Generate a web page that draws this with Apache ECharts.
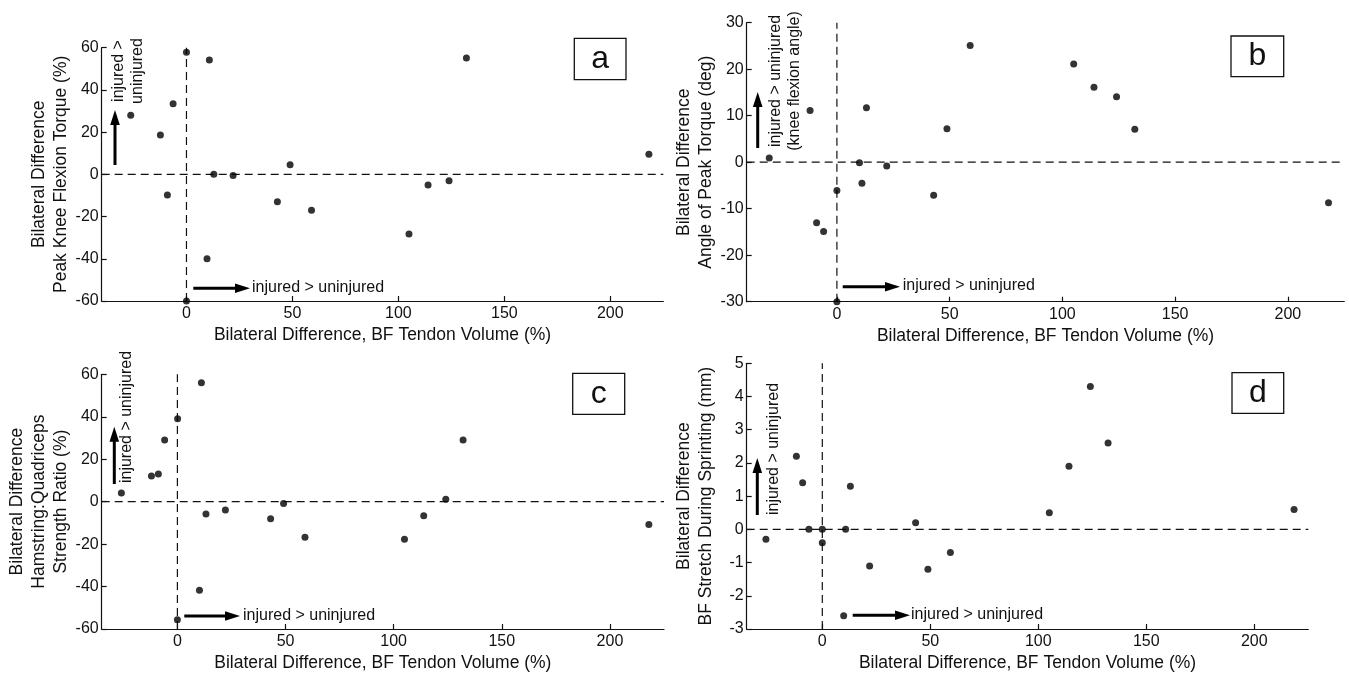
<!DOCTYPE html>
<html><head><meta charset="utf-8">
<script src="https://cdn.jsdelivr.net/npm/echarts@6/dist/echarts.min.js"></script>
<style>html,body{margin:0;padding:0;background:#fff}#c{width:1349px;height:675px}</style>
</head><body><div id="c"></div>
<script>
const FONT = "'Liberation Sans', Arial, Helvetica, sans-serif";
// shared tick labels
const xTicks = [0, 50, 100, 150, 200];
const yTicksA = [-60, -40, -20, 0, 20, 40, 60];
const yTicksB = [-30, -20, -10, 0, 10, 20, 30];
const yTicksC = [-60, -40, -20, 0, 20, 40, 60];
const yTicksD = [-3, -2, -1, 0, 1, 2, 3, 4, 5];
// axis titles
const xTitle = 'Bilateral Difference, BF Tendon Volume (%)';
const yTitleA = 'Bilateral Difference\nPeak Knee Flexion Torque (%)';
const yTitleB = 'Bilateral Difference\nAngle of Peak Torque (deg)';
const yTitleC = 'Bilateral Difference\nHamstring:Quadriceps\nStrength Ratio (%)';
const yTitleD = 'Bilateral Difference\nBF Stretch During Sprinting (mm)';
// panel a: peak knee flexion torque
const aX = [-26.3, -12.3, -9, -6.3, 0, 0, 9.7, 10.8, 12.9, 22, 42.9, 48.9, 59, 105, 114, 123.9, 132.1, 218.2];
const aY = [28, 18.6, -9.8, 33.5, 57.8, -60, -40, 54.2, 0, -0.6, -13, 4.6, -17, -28.3, -5, -3, 55.1, 9.5];
// panel b: angle of peak torque
const bX = [-30, -11.9, -9, -5.9, 0, 0, 10, 11.1, 13.1, 22.1, 42.9, 48.8, 59.1, 105, 114, 124, 132.1, 218];
const bY = [0.9, 11.1, -13, -14.9, -6.1, -30, -0.1, -4.5, 11.7, -0.8, -7.1, 7.2, 25.1, 21.1, 16.1, 14.1, 7.1, -8.7];
// panel c: H:Q strength ratio
const cX = [-25.9, -12, -8.8, -5.9, 0.1, 0, 11.1, 10.2, 13.2, 22.2, 43.1, 49.1, 59, 105, 113.9, 124.1, 132.1, 218];
const cY = [4.1, 12.1, 13, 29, 39, -55.7, 56, -41.7, -5.8, -3.9, -8, -0.9, -16.8, -17.7, -6.7, 1.1, 29, -10.8];
// panel d: BF stretch during sprinting
const dX = [-26.1, -12, -9.1, -6.2, 0, 0, 9.9, 10.8, 13, 21.9, 43.2, 48.9, 59.3, 105.1, 114.2, 124.1, 132.3, 218.4];
const dY = [-0.3, 2.2, 1.4, 0, 0, -0.4, -2.6, 0, 1.3, -1.1, 0.2, -1.2, -0.7, 0.5, 1.9, 4.3, 2.6, 0.6];

const panels = [
  {x: aX, y: aY, xMin: -40, xMax: 225, yTicks: yTicksA, yTitle: yTitleA, gap: 23,
   grid: {left: 101.7, top: 47.7, width: 561.6, height: 253.3}},
  {x: bX, y: bY, xMin: -40, xMax: 225, yTicks: yTicksB, yTitle: yTitleB, gap: 30,
   grid: {left: 746.7, top: 22.7, width: 597.6, height: 279}},
  {x: cX, y: cY, xMin: -35, xMax: 225, yTicks: yTicksC, yTitle: yTitleC, gap: 28,
   grid: {left: 101.7, top: 374.3, width: 562.3, height: 254.7}},
  {x: dX, y: dY, xMin: -35, xMax: 225, yTicks: yTicksD, yTitle: yTitleD, gap: 30,
   grid: {left: 746.7, top: 363.3, width: 561.6, height: 265.7}}
];

const INK = '#111';
const axisCommon = {
  axisLine: {show: true, onZero: false, lineStyle: {color: INK, width: 1.2}},
  axisTick: {show: true, inside: true, length: 5, lineStyle: {color: INK, width: 1.2}},
  splitLine: {show: false},
  nameTextStyle: {fontFamily: FONT, fontSize: 17.5, color: INK, lineHeight: 22}
};

const series = [];
panels.forEach((p, i) => {
  const yMin = p.yTicks[0], yMax = p.yTicks[p.yTicks.length - 1];
  const dash = {type: [8, 5], color: INK, width: 1.2};
  series.push({type: 'line', xAxisIndex: i, yAxisIndex: i, silent: true, symbol: 'none',
    lineStyle: dash, data: [[p.xMin, 0], [p.xMax, 0]], z: 1});
  series.push({type: 'line', xAxisIndex: i, yAxisIndex: i, silent: true, symbol: 'none',
    lineStyle: dash, data: [[0, yMin], [0, yMax]], z: 1});
  series.push({type: 'scatter', xAxisIndex: i, yAxisIndex: i, clip: false,
    symbol: 'circle', symbolSize: 7, itemStyle: {color: '#000'}, z: 3,
    data: p.x.map((v, k) => [v, p.y[k]])});
});

const option = {
  animation: false,
  backgroundColor: '#fff',
  grid: panels.map(p => p.grid),
  xAxis: panels.map((p, i) => Object.assign({}, axisCommon, {
    type: 'value', gridIndex: i, min: p.xMin, max: p.xMax,
    name: xTitle, nameLocation: 'middle', nameGap: 23,
    axisTick: Object.assign({}, axisCommon.axisTick, {customValues: xTicks}),
    axisLabel: {customValues: xTicks, fontFamily: FONT, fontSize: 16, color: INK, margin: 5}
  })),
  yAxis: panels.map((p, i) => Object.assign({}, axisCommon, {
    type: 'value', gridIndex: i, min: p.yTicks[0], max: p.yTicks[p.yTicks.length - 1],
    name: p.yTitle, nameLocation: 'middle', nameGap: p.gap,
    axisTick: Object.assign({}, axisCommon.axisTick, {customValues: p.yTicks}),
    axisLabel: {customValues: p.yTicks, fontFamily: FONT, fontSize: 16, color: INK, margin: 3}
  })),
  series: series,
  graphic: []
};

function arrow(x1, y1, x2, y2) {
  const dx = x2 - x1, dy = y2 - y1, L = Math.hypot(dx, dy), ux = dx / L, uy = dy / L;
  const hl = 15, hw = 4.8;
  const bx = x2 - ux * hl, by = y2 - uy * hl;
  return [
    {type: 'line', shape: {x1: x1, y1: y1, x2: bx + ux, y2: by + uy}, style: {stroke: '#000', lineWidth: 3}},
    {type: 'polygon', shape: {points: [[x2, y2], [bx - uy * hw, by + ux * hw], [bx + uy * hw, by - ux * hw]]}, style: {fill: '#000'}}
  ];
}
function hText(x, y, t) {
  return {type: 'text', x: x, y: y, style: {text: t, font: '16px ' + FONT, fill: INK, align: 'left', verticalAlign: 'middle'}};
}
function vText(x, y, t) {
  return {type: 'text', x: x, y: y, rotation: Math.PI / 2,
    style: {text: t, font: '16px ' + FONT, fill: INK, align: 'center', verticalAlign: 'middle', lineHeight: 19}};
}
function box(x, y, w, h, t) {
  return [
    {type: 'rect', shape: {x: x, y: y, width: w, height: h}, style: {fill: '#fff', stroke: INK, lineWidth: 1.3}},
    {type: 'text', x: x + w / 2, y: y + h / 2, style: {text: t, font: '32px ' + FONT, fill: INK, align: 'center', verticalAlign: 'middle'}}
  ];
}
const g = option.graphic;
// panel a
g.push(...arrow(193.3, 288.3, 250, 288.3), hText(252, 287.5, 'injured > uninjured'));
g.push(...arrow(115, 165, 115, 110), vText(128, 71, 'injured >\nuninjured'));
g.push(...box(574.3, 38.3, 51.7, 41.4, 'a'));
// panel b
g.push(...arrow(842.7, 286.7, 900, 286.7), hText(902.7, 286, 'injured > uninjured'));
g.push(...arrow(757.7, 148, 757.7, 92), vText(785, 81, 'injured > uninjured\n(knee flexion angle)'));
g.push(...box(1231, 36, 52.7, 40.7, 'b'));
// panel c
g.push(...arrow(184.3, 616, 240, 616), hText(243, 615.5, 'injured > uninjured'));
g.push(...arrow(114.3, 484, 114.3, 426.7), vText(127, 417, 'injured > uninjured'));
g.push(...box(572.7, 373.3, 52, 41, 'c'));
// panel d
g.push(...arrow(852.7, 615.3, 910, 615.3), hText(911, 615, 'injured > uninjured'));
g.push(...arrow(757.3, 515, 757.3, 458), vText(774, 449, 'injured > uninjured'));
g.push(...box(1232, 372.7, 51.7, 40.6, 'd'));

const chart = echarts.init(document.getElementById('c'), null, {renderer: 'canvas'});
chart.setOption(option);
</script>
</body></html>
